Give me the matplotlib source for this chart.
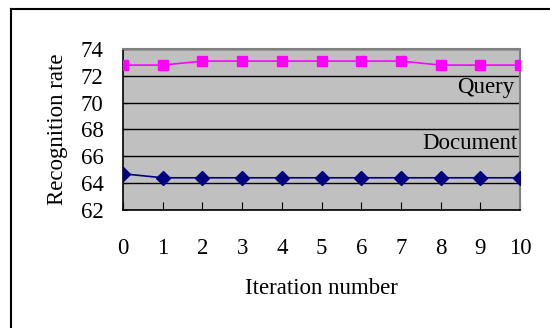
# recognition rate vs iteration number, query vs document
import matplotlib.pyplot as plt
from matplotlib.lines import Line2D

iterations = [0, 1, 2, 3, 4, 5, 6, 7, 8, 9, 10]
query = [72.8, 72.8, 73.1, 73.1, 73.1, 73.1, 73.1, 73.1, 72.8, 72.8, 72.8]
document = [64.7, 64.4, 64.4, 64.4, 64.4, 64.4, 64.4, 64.4, 64.4, 64.4, 64.4]
y_ticks = [62, 64, 66, 68, 70, 72, 74]

plt.rcParams['font.family'] = 'Liberation Serif'
plt.rcParams['font.size'] = 16.5

fig = plt.figure(figsize=(5.5, 3.28), dpi=100)
ax = fig.add_axes([0.2236, 0.3598, 0.7219, 0.4908])
ax.set_facecolor('#C0C0C0')

ax.plot(iterations, query, color='#FF00FF', marker='s', markersize=7, linewidth=1.2, zorder=3)
ax.plot(iterations, document, color='#000080', marker='D', markersize=7, linewidth=1.2, zorder=3)

# series labels next to the last points
ax.annotate('Query', xy=(iterations[-1], query[-1]), xytext=(-4, -16),
            textcoords='offset points', ha='right', va='center')
ax.annotate('Document', xy=(iterations[-1], document[-1]), xytext=(-2, 25),
            textcoords='offset points', ha='right', va='center')

ax.set_xlim(0, 10)
ax.set_ylim(62, 74)
ax.set_xticks(iterations)
ax.set_yticks(y_ticks)
ax.grid(axis='y', color='black', linewidth=1)
ax.set_axisbelow(True)

ax.tick_params(axis='x', direction='in', length=6, pad=20, color='black')
ax.tick_params(axis='y', direction='in', length=3, pad=14, color='black')

for side in ['top', 'right']:
    ax.spines[side].set_color('#808080')
    ax.spines[side].set_linewidth(1.5)
for side in ['left', 'bottom']:
    ax.spines[side].set_color('black')
    ax.spines[side].set_linewidth(1.2)

ax.set_xlabel('Iteration number', labelpad=14)
ax.set_ylabel('Recognition rate', labelpad=9)

# outer chart frame (only top and left edges show)
fig.add_artist(Line2D([0.02, 0.02], [0, 0.973], color='black', linewidth=1.5))
fig.add_artist(Line2D([0.02, 1], [0.973, 0.973], color='black', linewidth=1.5))

plt.savefig('out.png', dpi=100)
